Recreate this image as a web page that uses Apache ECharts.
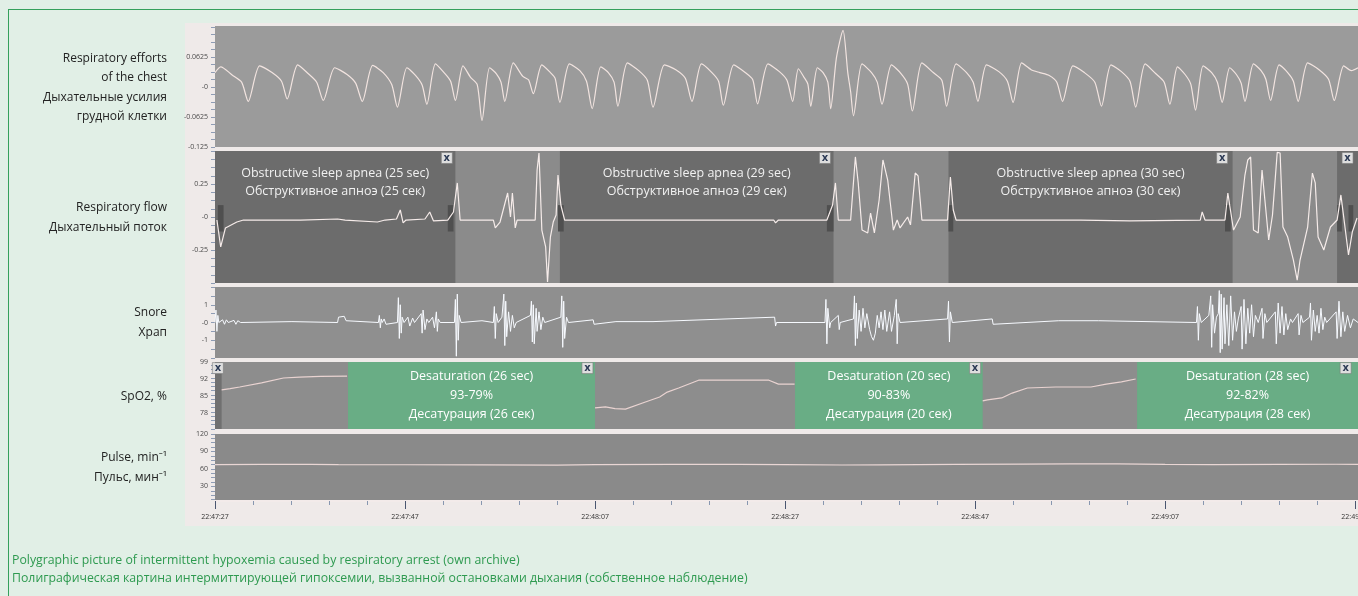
<!DOCTYPE html>
<html>
<head>
<meta charset="utf-8">
<title>Polygraphic picture of intermittent hypoxemia</title>
<script src="https://cdn.jsdelivr.net/npm/echarts@6/dist/echarts.min.js"></script>
<style>
  html, body { margin: 0; padding: 0; background: #e1efe6; overflow: hidden; }
  .frame { position: absolute; left: 8px; top: 9px; width: 1400px; height: 620px;
           border-top: 1px solid #35a05c; border-left: 1px solid #35a05c; }
  .strip { position: absolute; left: 185px; top: 23px; width: 1173px; height: 503px; background: #efeae9; }
  #chart { position: absolute; left: 0; top: 0; width: 1358px; height: 596px; }
</style>
</head>
<body>
<div class="frame"></div>
<div class="strip"></div>
<div id="chart"></div>
<script>
// time in seconds from 22:47:27
const timeLabels = ['22:47:27', '22:47:47', '22:48:07', '22:48:27', '22:48:47', '22:49:07', '22:49:27'];

// respiratory efforts of the chest
const effortData = [
  [0, 0.030], [0.6, 0.042], [1.8, 0.025], [2.8, 0.010], [3.5, -0.030],
  [4.7, 0.044], [6.0, 0.030], [7.0, 0.012], [7.6, -0.025],
  [8.7, 0.046], [9.8, 0.028], [10.7, 0.010], [11.4, -0.028],
  [12.6, 0.040], [13.9, 0.026], [14.8, 0.008], [15.5, -0.030],
  [16.6, 0.045], [17.7, 0.030], [18.6, 0.005], [19.2, -0.042],
  [20.2, 0.040], [21.1, 0.024], [21.8, 0.004], [22.3, -0.036],
  [23.2, 0.048], [24.1, 0.030], [24.8, 0.012], [25.3, -0.028],
  [26.1, 0.044], [26.9, 0.020], [27.6, 0.005], [28.1, -0.070],
  [28.9, 0.040], [29.6, 0.028], [30.1, 0.010], [30.5, -0.030],
  [31.4, 0.050], [32.4, 0.022], [33.0, 0.015], [33.5, -0.014],
  [34.4, 0.046], [35.3, 0.030], [35.8, 0.018], [36.3, -0.032],
  [37.3, 0.048], [38.4, 0.034], [39.1, 0.012], [39.7, -0.045],
  [40.6, 0.042], [41.4, 0.030], [42.0, 0.010], [42.4, -0.040],
  [43.4, 0.050], [44.6, 0.034], [45.5, 0.014], [46.1, -0.042],
  [47.3, 0.046], [48.5, 0.036], [49.5, 0.018], [50.2, -0.030],
  [51.2, 0.048], [52.3, 0.030], [53.0, 0.012], [53.5, -0.038],
  [54.6, 0.046], [55.8, 0.030], [56.6, 0.015], [57.1, -0.035],
  [58.2, 0.048], [59.4, 0.032], [60.2, 0.014], [60.8, -0.030],
  [61.4, 0.038], [62.0, 0.020], [62.4, 0.006], [62.7, -0.040],
  [63.4, 0.040], [64.0, 0.030], [64.5, 0.010], [64.8, -0.045],
  [65.4, 0.060], [66.1, 0.118], [66.6, 0.030], [66.9, -0.010], [67.2, -0.060],
  [68.1, 0.048], [69.1, 0.030], [69.7, 0.010], [70.2, -0.036],
  [71.2, 0.046], [72.2, 0.028], [72.9, 0.006], [73.4, -0.050],
  [74.4, 0.050], [75.6, 0.030], [76.5, 0.014], [77.0, -0.040],
  [78.0, 0.048], [79.1, 0.030], [79.8, 0.010], [80.3, -0.030],
  [81.2, 0.046], [82.5, 0.032], [83.4, 0.012], [84.0, -0.032],
  [84.9, 0.050], [85.9, 0.036], [86.8, 0.030], [87.8, 0.024], [88.6, 0.010], [89.2, -0.030],
  [90.3, 0.044], [91.5, 0.030], [92.6, 0.010], [93.3, -0.040],
  [94.3, 0.046], [95.4, 0.032], [96.3, 0.012], [96.9, -0.042],
  [97.9, 0.048], [99.0, 0.028], [99.9, 0.010], [100.5, -0.036],
  [101.3, 0.042], [102.1, 0.026], [102.7, 0.006], [103.2, -0.048],
  [104.0, 0.044], [104.9, 0.030], [105.5, 0.010], [106.0, -0.032],
  [106.8, 0.040], [107.5, 0.026], [108.0, 0.008], [108.4, -0.030],
  [109.3, 0.048], [110.1, 0.034], [110.6, 0.016], [111.1, -0.028],
  [112.0, 0.046], [112.9, 0.030], [113.5, 0.012], [114.0, -0.030],
  [115.0, 0.050], [116.2, 0.036], [117.2, 0.016], [117.8, -0.028],
  [118.8, 0.044], [119.6, 0.034], [120.3, 0.040]
];

// respiratory flow
const flowData = [
  [0.2, -0.023], [0.6, -0.227], [1.1, -0.083], [2.3, -0.038], [3.0, -0.023], [9.0, -0.023],
  [12.9, -0.015], [13.7, -0.023], [17.1, -0.038], [17.9, -0.023], [19.1, -0.015], [19.5, 0.053],
  [19.8, -0.045], [20.1, -0.023], [22.1, -0.015], [22.6, 0.038], [23.0, -0.030], [24.5, -0.023],
  [25.1, 0.038], [25.5, 0.258], [25.8, -0.023], [29.3, -0.023], [29.5, -0.083], [30.0, -0.038],
  [30.8, 0.182], [31.1, 0], [31.3, 0.182], [31.6, -0.083], [31.8, -0.023], [33.7, -0.023],
  [33.9, 0.356], [34.1, 0.485], [34.4, -0.099], [34.8, -0.227], [35.0, -0.493], [35.3, -0.152],
  [35.6, -0.038], [35.9, 0.015], [36.1, 0.318], [36.4, 0.091], [36.8, -0.023], [45.8, -0.023],
  [51.1, -0.023], [58.8, -0.023], [59.0, -0.045], [59.3, -0.023], [64.4, -0.023], [65.0, 0.091],
  [65.3, 0.258], [65.6, -0.023], [66.9, -0.023], [67.4, 0.455], [67.7, 0.258], [68.1, -0.099],
  [68.7, -0.121], [69.0, 0.030], [69.4, -0.121], [69.9, 0.129], [70.3, 0.432], [70.8, 0.280],
  [71.1, 0.091], [71.4, -0.099], [71.8, -0.023], [72.1, -0.083], [72.9, 0], [73.2, -0.060],
  [73.7, 0.333], [74.0, 0.311], [74.4, -0.023], [77.1, -0.023], [77.4, 0.303], [77.7, 0.053],
  [78.0, -0.023], [82.7, -0.023], [91.1, -0.023], [96.3, -0.030], [103.7, -0.023], [103.9, 0.038],
  [104.2, -0.023], [106.3, -0.023], [106.6, 0.182], [107.2, -0.099], [107.9, 0], [108.4, 0.318],
  [108.7, 0.432], [109.0, 0.455], [109.3, -0.099], [109.8, -0.121], [110.2, 0.356], [110.5, 0.129],
  [110.9, -0.174], [111.3, 0.015], [111.8, 0.490], [112.1, 0.485], [112.4, -0.076], [112.9, -0.152],
  [113.5, -0.326], [113.9, -0.478], [114.2, -0.326], [115.0, -0.076], [115.5, 0.333], [115.8, 0.258],
  [116.1, -0.152], [116.7, -0.250], [117.4, -0.076], [118.1, -0.023], [118.5, 0.167], [118.9, -0.060],
  [119.3, -0.288], [119.7, -0.114], [120.2, -0.008]
];

// snore
const snoreData = [
  [0, 0], [0.1, 0.7], [0.2, -0.5], [0.3, 0.4], [0.4, 0], [0.8, 0.15], [1.0, -0.1], [1.2, 0.15],
  [1.4, 0], [2.0, 0.12], [2.2, -0.1], [2.4, 0.1], [2.7, 0], [8.1, 0.05], [8.2, 0], [12.9, 0],
  [13.0, 0.3], [13.6, 0.35], [13.8, 0.1], [14.0, 0], [17.2, 0], [17.3, 0.4], [17.4, -0.3],
  [17.5, 0.2], [17.6, 0], [17.8, 0.2], [18.0, -0.1], [18.2, 0], [19.2, 0], [19.3, 1.4],
  [19.4, -0.9], [19.5, 1.0], [19.6, -0.6], [19.7, 0.3], [19.9, 0], [20.3, 0.3], [20.5, -0.2],
  [20.8, 0.25], [21.0, 0], [21.7, 0.5], [21.8, -0.6], [21.9, 0.7], [22.1, -0.4], [22.3, 0.2],
  [22.5, 0], [22.9, 0.3], [23.1, -0.3], [23.3, 0.6], [23.4, -0.5], [23.5, 0.2], [23.7, 0],
  [25.2, 0], [25.3, 1.3], [25.4, -1.9], [25.5, 1.6], [25.6, -1.0], [25.7, 0.4], [25.9, 0],
  [28.1, 0.1], [28.3, 0], [29.3, 0], [29.4, 0.9], [29.5, -0.9], [29.6, 0.5], [29.8, 0],
  [30.2, 0.3], [30.4, 1.6], [30.5, -1.3], [30.6, 1.2], [30.7, -0.8], [30.9, 0.6], [31.1, -0.5],
  [31.3, 0.4], [31.5, -0.3], [31.7, 0], [33.2, 0.4], [33.3, 1.2], [33.4, -1.1], [33.5, 1.0],
  [33.6, -1.2], [33.8, 0.8], [33.9, -0.5], [34.1, 0.6], [34.3, -0.4], [34.5, 0.3], [34.7, 0],
  [36.4, 0.3], [36.5, 1.5], [36.6, -1.4], [36.7, 1.2], [36.8, -0.9], [37.0, 0.3], [37.2, 0],
  [39.8, 0.15], [39.9, -0.1], [40.0, 0], [42.2, 0.05], [42.3, 0], [46.1, 0.05], [46.2, 0],
  [58.9, 0.3], [59.0, -0.2], [59.1, 0], [64.2, 0], [64.3, 1.3], [64.4, -1.2], [64.5, 0.8],
  [64.7, -0.3], [64.8, 0], [65.6, 0.4], [65.7, -0.4], [65.8, 0], [67.2, 0.2], [67.3, 1.5],
  [67.4, -1.3], [67.5, 1.1], [67.6, -0.9], [67.8, 0.7], [68.0, -0.5], [68.2, 0.8], [68.4, -0.3],
  [68.6, 0.5], [68.9, -0.4], [69.1, -0.8], [69.3, -1.0], [69.5, -0.6], [69.7, 0.4], [69.9, -0.3],
  [70.1, 0.6], [70.3, -0.4], [70.5, 0.7], [70.7, -0.5], [71.0, 0.6], [71.2, -0.5], [71.5, 0.4],
  [71.7, 1.3], [71.8, -1.2], [71.9, 0.5], [72.1, 0], [77.1, 0.2], [77.2, 1.2], [77.3, -1.1],
  [77.4, 0.6], [77.6, 0], [81.8, 0.2], [81.9, -0.1], [82.0, 0], [88.8, 0.1], [88.9, 0],
  [93.0, 0.1], [93.1, 0], [103.3, 0], [103.4, 0.9], [103.5, -1.0], [103.6, 0.5], [103.8, 0],
  [104.6, 0.4], [104.8, 1.5], [104.9, -1.4], [105.0, 1.0], [105.2, -0.6], [105.4, 0.3],
  [105.6, 0.5], [105.7, 1.8], [105.8, -1.7], [105.9, 1.6], [106.0, -1.5], [106.2, 1.4],
  [106.3, -1.2], [106.5, 1.0], [106.7, -1.3], [106.9, 1.5], [107.1, -1.0], [107.3, 0.6],
  [107.5, -0.5], [107.7, 0.2], [108.0, 0.9], [108.1, -1.5], [108.3, 1.3], [108.5, -1.2],
  [108.7, 0.8], [108.9, -0.6], [109.1, 1.0], [109.3, -0.8], [109.5, 0.4], [109.8, 0],
  [110.2, 0.8], [110.3, -0.9], [110.5, 0.5], [110.7, 0], [111.6, 0.6], [111.7, -1.2],
  [111.9, 1.1], [112.1, -0.6], [112.3, 0.9], [112.5, -0.7], [112.7, 0.5], [112.9, -0.4],
  [113.2, 0.2], [113.4, 0], [114.0, 0.5], [114.1, -0.7], [114.3, 0.4], [114.5, 0],
  [115.2, 0.3], [115.3, 1.1], [115.4, -1.0], [115.6, 0.7], [115.8, -0.5], [116.0, 0.4],
  [116.2, -0.6], [116.4, 0.8], [116.6, -0.4], [116.8, 0.3], [117.0, 0], [118.0, 0.6],
  [118.1, -0.9], [118.3, 1.2], [118.5, -0.8], [118.7, 0.6], [118.9, -0.5], [119.2, 0.4],
  [119.5, -0.3], [119.8, 0.2], [120.3, 0]
];

// SpO2, % (gaps where the desaturation boxes cover the trace)
const spo2Data = [
  [0.7, 87.5], [1.6, 88.0], [2.6, 88.7], [4.9, 90.4], [7.2, 92.4], [8.9, 92.8], [11.1, 93.1], [13.9, 93.2],
  [14.0, null],
  [40.0, 80.1], [41.1, 80.5], [42.1, 79.8], [43.2, 79.6], [45.3, 82.5], [46.8, 84.6], [47.6, 86.6],
  [48.8, 88.3], [50.9, 91.5], [58.3, 91.5], [59.3, 89.9], [61.0, 89.9],
  [61.1, null],
  [80.8, 83.0], [81.3, 83.4], [82.8, 84.2], [83.9, 86.2], [85.5, 88.3], [88.5, 88.7], [92.2, 88.7],
  [93.8, 89.9], [95.4, 90.8], [96.9, 92.0]
];

// pulse, min-1
const pulseData = [
  [0, 67.5], [5, 67.8], [10, 68.0], [13, 67.6], [20, 67.2], [28, 67.0], [36, 66.6], [40, 67.4],
  [48, 67.8], [55, 68.0], [60, 67.6], [66, 66.8], [70, 67.0], [78, 67.8], [85, 68.4], [90, 68.8],
  [95, 68.6], [100, 68.0], [105, 67.6], [112, 67.9], [118, 68.1], [120.3, 68.0]
];

// scored events
const apneaStart = [0, 36.3, 77.2, 118.1];
const apneaEnd = [25.3, 65.1, 107.1, 120.3];
const apneaText = [
  'Obstructive sleep apnea (25 sec)\nОбструктивное апноэ (25 сек)',
  'Obstructive sleep apnea (29 sec)\nОбструктивное апноэ (29 сек)',
  'Obstructive sleep apnea (30 sec)\nОбструктивное апноэ (30 сек)',
  ''
];
const apneaCloseT = [24.4, 64.2, 106.0, 119.2];
const flowMarkStart = [0.3, 24.5, 36.1, 64.4, 77.2, 106.3, 118.1, 119.3];
const flowMarkEnd = [0.9, 25.1, 36.7, 65.1, 77.7, 106.9, 118.6, 119.8];

const desatStart = [14.0, 61.05, 97.05];
const desatEnd = [40.0, 80.8, 120.3];
const desatText = [
  'Desaturation (26 sec)\n93-79%\nДесатурация (26 сек)',
  'Desaturation (20 sec)\n90-83%\nДесатурация (20 сек)',
  'Desaturation (28 sec)\n92-82%\nДесатурация (28 сек)'
];
const desatCloseT = [0.3, 39.2, 80.0, 119.0];

// axis labels
const effortTicks = [0.0625, 0, -0.0625, -0.125];
const flowTicks = [0.25, 0, -0.25];
const snoreTicks = [1, 0, -1];
const spo2Ticks = [99, 92, 85, 78];
const pulseTicks = [120, 90, 60, 30];

const panelLabels = [
  ['Respiratory efforts', 'of the chest', 'Дыхательные усилия', 'грудной клетки'],
  ['Respiratory flow', 'Дыхательный поток'],
  ['Snore', 'Храп'],
  ['SpO2, %'],
  ['Pulse, min⁻¹', 'Пульс, мин⁻¹']
];
const caption = [
  'Polygraphic picture of intermittent hypoxemia caused by respiratory arrest (own archive)',
  'Полиграфическая картина интермиттирующей гипоксемии, вызванной остановками дыхания (собственное наблюдение)'
];

const FONT = '"Open Sans", "Noto Sans", sans-serif';
const X_MAX = 120.3;

const steps = (a, b, s) => {
  const out = [];
  for (let v = a; v <= b + 1e-9; v += s) out.push(+v.toFixed(4));
  return out;
};

const grids = [
  { top: 26, height: 121, bg: '#9b9b9b' },
  { top: 151, height: 132, bg: '#8b8b8b' },
  { top: 287, height: 71, bg: '#8f8f8f' },
  { top: 362, height: 67, bg: '#8d8d8d' },
  { top: 434, height: 67, bg: '#8a8a8a' }
];

const yDefs = [
  { min: -0.125, max: 0.127, labels: effortTicks, ticks: steps(-0.125, 0.125, 0.015625) },
  { min: -0.5, max: 0.5, labels: flowTicks, ticks: steps(-0.5, 0.5, 0.0625) },
  { min: -2, max: 2, labels: snoreTicks, ticks: steps(-2, 2, 0.5) },
  { min: 71.4, max: 99, labels: spo2Ticks, ticks: steps(71.5, 99, 1.75) },
  { min: 5, max: 120, labels: pulseTicks, ticks: steps(7.5, 120, 7.5) }
];

const chart = echarts.init(document.getElementById('chart'));

const lineBase = (i, data, color, extra) => Object.assign({
  type: 'line',
  xAxisIndex: i,
  yAxisIndex: i,
  data: data,
  showSymbol: false,
  symbol: 'none',
  connectNulls: false,
  silent: true,
  lineStyle: { color: color, width: 1.2 },
  z: 3
}, extra || {});

const closeBox = (coords) => ({
  symbol: 'rect',
  symbolSize: [11, 11],
  silent: true,
  itemStyle: { color: '#dedede', borderColor: '#7a7a7a', borderWidth: 0.6 },
  label: { show: true, position: 'inside', formatter: 'x', color: '#2c3a55', fontSize: 10, fontWeight: 'bold', fontFamily: 'DejaVu Sans' },
  data: coords.map(c => ({ coord: c }))
});

const graphic = [];
const labelCenters = [87.5, 217.5, 322.5, 397, 467.5];
panelLabels.forEach((lines, p) => {
  lines.forEach((txt, k) => {
    graphic.push({
      type: 'text',
      x: 167,
      y: labelCenters[p] + (k - (lines.length - 1) / 2) * 19.6,
      style: { text: txt, align: 'right', verticalAlign: 'middle', fontSize: 12, fontFamily: FONT, fill: '#222' }
    });
  });
});
caption.forEach((txt, k) => {
  graphic.push({
    type: 'text',
    x: 12,
    y: 560 + k * 18.5,
    style: { text: txt, align: 'left', verticalAlign: 'middle', fontSize: 12.3, fontFamily: FONT, fill: '#2e9a50' }
  });
});

const option = {
  animation: false,
  backgroundColor: 'transparent',
  textStyle: { fontFamily: FONT },
  grid: grids.map(g => ({
    left: 215, right: 0, top: g.top, height: g.height,
    containLabel: false,
    outerBoundsMode: 'none',
    show: true, backgroundColor: g.bg, borderWidth: 0
  })),
  xAxis: grids.map((g, i) => ({
    gridIndex: i,
    type: 'value',
    min: 0,
    max: X_MAX,
    interval: 20,
    show: i === 4,
    axisLine: { show: true, lineStyle: { color: '#f3ebea', width: 2 } },
    axisTick: { show: true, length: 8, lineStyle: { color: '#4a5670', width: 1 } },
    minorTick: { show: true, splitNumber: 5, length: 4, lineStyle: { color: '#8797b0' } },
    axisLabel: {
      fontSize: 7, color: '#333', margin: 12,
      formatter: v => (Math.abs(v / 20 - Math.round(v / 20)) < 0.001 ? timeLabels[Math.round(v / 20)] : '')
    },
    splitLine: { show: false },
    minorSplitLine: { show: false }
  })),
  yAxis: yDefs.map((d, i) => ({
    gridIndex: i,
    type: 'value',
    min: d.min,
    max: d.max,
    axisLine: { show: false },
    axisTick: { show: true, customValues: d.ticks, length: 4, lineStyle: { color: '#8e9cb4' } },
    axisLabel: {
      customValues: d.labels, fontSize: 7, color: '#4a4a4a', margin: 7,
      formatter: v => (v === 0 ? '-0' : String(v))
    },
    splitLine: { show: false }
  })),
  graphic: graphic,
  series: [
    lineBase(0, effortData, '#f2e4e0', { smooth: 0.25 }),
    lineBase(1, flowData, '#f6ecea', {
      markArea: {
        silent: true,
        label: {
          show: true, position: 'insideTop', distance: 13, color: '#f1f1f1',
          fontSize: 12.5, lineHeight: 18, fontFamily: FONT
        },
        data: apneaStart.map((s, k) => [
          { name: apneaText[k], xAxis: s, itemStyle: { color: '#6c6c6c' } },
          { xAxis: apneaEnd[k] }
        ]).concat(flowMarkStart.map((s, k) => [
          { name: '', xAxis: s, yAxis: -0.11, itemStyle: { color: '#4f4f4f' } },
          { xAxis: flowMarkEnd[k], yAxis: 0.09 }
        ]))
      },
      markPoint: closeBox(apneaCloseT.map(t => [t, 0.447]))
    }),
    lineBase(2, snoreData, '#f7faff', { lineStyle: { color: '#f7faff', width: 1 } }),
    lineBase(3, spo2Data, '#e9d3d1', {
      markArea: {
        silent: true,
        label: {
          show: true, position: 'inside', color: '#ffffff',
          fontSize: 12.5, lineHeight: 19, fontFamily: FONT
        },
        data: desatStart.map((s, k) => [
          { name: desatText[k], xAxis: s, itemStyle: { color: '#69ad85', opacity: 1 } },
          { xAxis: desatEnd[k] }
        ]).concat([[
          { name: '', xAxis: 0, itemStyle: { color: '#707070' } },
          { xAxis: 0.7 }
        ]])
      },
      markPoint: closeBox(desatCloseT.map(t => [t, 96.5]))
    }),
    lineBase(4, pulseData, '#e9d6d4')
  ]
};

chart.setOption(option);
</script>
</body>
</html>
